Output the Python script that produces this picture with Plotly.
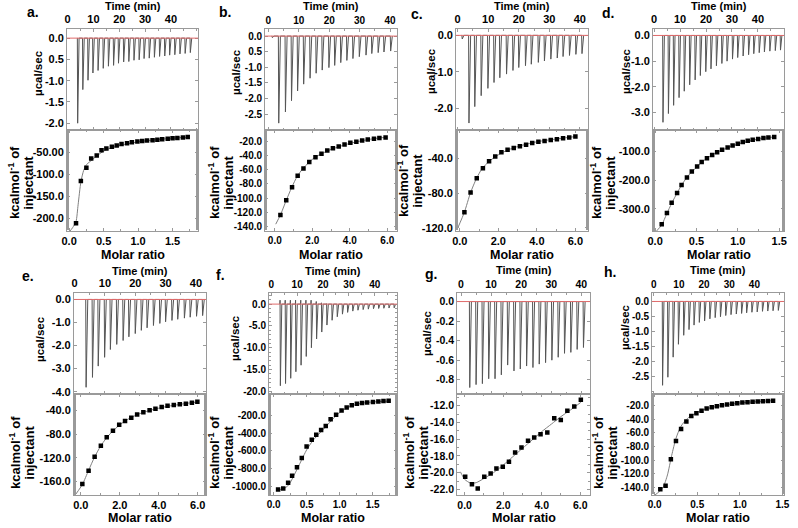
import plotly.graph_objects as go

W, H = 798, 528
FONT = "Liberation Sans"
FRAME = "#9a9a9a"

time_ticks = [0, 10, 20, 30, 40]
time_labels = ["0", "10", "20", "30", "40"]

# ===================== panel a =====================
a_inj_time = [3.7, 5.7, 7.7, 9.6, 11.6, 13.6, 15.6, 17.6, 19.5, 21.5, 23.5, 25.5,
              27.5, 29.4, 31.4, 33.4, 35.4, 37.4, 39.3, 41.3, 43.3, 45.3, 47.3]
a_inj_peak = [-2.00, -1.21, -0.99, -0.82, -0.76, -0.71, -0.66, -0.64, -0.59, -0.56, -0.55, -0.52,
              -0.51, -0.48, -0.47, -0.45, -0.43, -0.42, -0.40, -0.39, -0.37, -0.36, -0.34]
a_ratio = [0.10, 0.17, 0.25, 0.32, 0.40, 0.47, 0.54, 0.62, 0.69, 0.76, 0.84, 0.91,
           0.99, 1.06, 1.13, 1.21, 1.28, 1.35, 1.43, 1.50, 1.57, 1.65, 1.72]
a_heat = [-212, -116, -86, -65, -58, -46, -42, -38, -35, -32, -30, -28,
          -26, -25, -24, -23, -22, -21, -20, -19, -18, -17, -16]
a_fit_x = [0.0, 0.05, 0.10, 0.13, 0.17, 0.21, 0.25, 0.30, 0.40, 0.50, 0.60, 0.80, 1.00, 1.20, 1.40, 1.60, 1.72]
a_fit_y = [-232, -222, -208, -170, -118, -92, -79, -72, -59, -48, -41, -33, -27, -23, -20, -17.5, -16.5]
a_power_ticks = [0.0, -0.5, -1.0, -1.5, -2.0]
a_power_labels = ["0.0", "0.5", "-1.0", "-1.5", "-2.0"]
a_ratio_ticks = [0.0, 0.5, 1.0, 1.5]
a_ratio_labels = ["0.0", "0.5", "1.0", "1.5"]
a_heat_ticks = [-50, -100, -150, -200]
a_heat_labels = ["-50.00", "-100.0", "-150.0", "-200.0"]

# ===================== panel b =====================
b_inj_time = [1.1, 3.2, 5.4, 7.4, 9.4, 11.4, 13.5, 15.5, 17.5, 19.7, 21.6, 23.6,
              25.6, 27.6, 29.7, 31.9, 33.8, 35.9, 37.8, 40.0]
b_inj_peak = [-0.05, -2.79, -2.43, -2.07, -1.76, -1.54, -1.35, -1.19, -1.09, -1.01, -0.94, -0.85,
              -0.78, -0.72, -0.66, -0.61, -0.56, -0.53, -0.51, -0.48]
b_ratio = [0.30, 0.61, 0.92, 1.22, 1.53, 1.84, 2.17, 2.49, 2.80, 3.10, 3.41, 3.72,
           4.03, 4.35, 4.66, 4.96, 5.29, 5.58, 5.91]
b_heat = [-124, -103, -84.5, -68.5, -58, -49, -42, -37, -32.5, -29.5, -27, -24,
          -21.5, -20, -18.5, -17, -16, -15, -14]
b_fit_x = [0.05, 0.3, 0.6, 0.9, 1.2, 1.5, 1.8, 2.1, 2.5, 3.0, 3.5, 4.0, 4.5, 5.0, 5.5, 5.95]
b_fit_y = [-137, -124, -104, -85, -69, -58, -50, -43, -37, -31, -26.5, -22.5, -19.5, -17, -15, -13.8]
b_power_ticks = [0.0, -0.5, -1.0, -1.5, -2.0, -2.5]
b_power_labels = ["0.0", "0.5", "-1.0", "-1.5", "-2.0", "-2.5"]
b_ratio_ticks = [0.0, 2.0, 4.0, 6.0]
b_ratio_labels = ["0.0", "2.0", "4.0", "6.0"]
b_heat_ticks = [-20, -40, -60, -80, -100, -120, -140]
b_heat_labels = ["-20.0", "-40.0", "-60.0", "-80.0", "-100.0", "-120.0", "-140.0"]

# ===================== panel c =====================
c_inj_time = [1.3, 3.5, 5.4, 7.5, 9.7, 11.7, 13.6, 15.8, 17.9, 19.8, 22.0, 23.9,
              26.2, 28.2, 30.3, 32.4, 34.3, 36.4, 38.5, 40.5]
c_inj_peak = [-0.10, -2.40, -1.95, -1.65, -1.45, -1.29, -1.16, -1.06, -0.96, -0.88, -0.83, -0.79,
              -0.74, -0.70, -0.65, -0.62, -0.58, -0.55, -0.52, -0.50]
c_ratio = [0.24, 0.56, 0.88, 1.20, 1.52, 1.84, 2.16, 2.48, 2.80, 3.12, 3.44, 3.76,
           4.08, 4.40, 4.72, 5.04, 5.36, 5.68, 6.00]
c_heat = [-102, -79.5, -63, -51.5, -43.5, -38, -33, -30, -28, -26, -24.5, -22.5,
          -21, -20, -19, -18, -17, -16, -15]
c_fit_x = [-0.1, 0.24, 0.55, 0.85, 1.15, 1.5, 1.85, 2.2, 2.6, 3.0, 3.5, 4.0, 4.5, 5.0, 5.5, 6.0]
c_fit_y = [-120, -102, -80, -64, -52, -44, -38, -33.5, -29.5, -26.5, -23.5, -21, -19.2, -17.8, -16.3, -15]
c_power_ticks = [0.0, -1.0, -2.0]
c_power_labels = ["0.0", "-1.0", "-2.0"]
c_ratio_ticks = [0.0, 2.0, 4.0, 6.0]
c_ratio_labels = ["0.0", "2.0", "4.0", "6.0"]
c_heat_ticks = [-40, -80, -120]
c_heat_labels = ["-40.0", "-80.0", "-120.0"]

# ===================== panel d =====================
d_inj_time = [3.2, 5.3, 7.3, 9.4, 11.4, 13.5, 15.6, 17.6, 19.7, 21.7, 23.8, 25.9,
              27.9, 30.0, 32.0, 34.1, 36.2, 38.2, 40.3, 42.3, 44.4, 46.5, 48.5]
d_inj_peak = [-3.38, -3.04, -2.72, -2.42, -2.17, -1.92, -1.73, -1.56, -1.41, -1.30, -1.18, -1.09,
              -1.00, -0.92, -0.86, -0.80, -0.75, -0.71, -0.67, -0.64, -0.61, -0.59, -0.57]
d_ratio = [0.08, 0.143, 0.20, 0.266, 0.32, 0.385, 0.444, 0.508, 0.563, 0.627, 0.69, 0.75,
           0.81, 0.877, 0.937, 1.0, 1.06, 1.12, 1.18, 1.246, 1.31, 1.37, 1.44]
d_heat = [-354, -315, -279, -245, -217, -191, -170, -153, -137, -124, -113, -103,
          -95, -87, -80, -74, -68, -63, -60, -57, -54, -52, -50]
d_fit_x = [0.015, 0.08, 0.14, 0.2, 0.27, 0.33, 0.4, 0.5, 0.6, 0.7, 0.8, 0.9, 1.0, 1.1, 1.2, 1.3, 1.44]
d_fit_y = [-378, -356, -318, -281, -243, -213, -185, -155, -130, -111, -97, -85, -75, -67, -60, -55, -50]
d_power_ticks = [0.0, -1.0, -2.0, -3.0]
d_power_labels = ["0.0", "-1.0", "-2.0", "-3.0"]
d_ratio_ticks = [0.0, 0.5, 1.0, 1.5]
d_ratio_labels = ["0.0", "0.5", "1.0", "1.5"]
d_heat_ticks = [-100, -200, -300]
d_heat_labels = ["-100.0", "-200.0", "-300.0"]

# ===================== panel e =====================
e_inj_time = [3.6, 5.7, 7.6, 9.7, 11.6, 13.7, 15.8, 17.7, 19.8, 21.8, 23.7, 25.8,
              27.9, 29.8, 31.9, 33.8, 36.0, 37.9, 40.0, 42.0]
e_inj_peak = [-3.81, -3.38, -2.89, -2.51, -2.17, -1.95, -1.78, -1.62, -1.48, -1.34, -1.23, -1.13,
              -1.04, -0.97, -0.91, -0.86, -0.81, -0.77, -0.73, -0.70]
e_ratio = [0.08, 0.40, 0.71, 1.03, 1.33, 1.65, 1.97, 2.27, 2.59, 2.89, 3.21, 3.53,
           3.83, 4.15, 4.45, 4.77, 5.08, 5.39, 5.70, 5.98]
e_heat = [-164, -141.5, -118, -99.5, -85, -74, -64, -57.5, -52, -46.5, -43, -39.5,
          -37, -34, -32, -30.5, -29.5, -28.5, -27, -25]
e_fit_x = [-0.25, 0.08, 0.4, 0.7, 1.0, 1.3, 1.6, 2.0, 2.5, 3.0, 3.5, 4.0, 4.5, 5.0, 5.5, 6.0]
e_fit_y = [-181, -165, -141, -119, -101, -87, -76, -64, -53, -45.5, -40, -36, -32.5, -30, -27.5, -25.5]
e_power_ticks = [0.0, -1.0, -2.0, -3.0, -4.0]
e_power_labels = ["0.0", "-1.0", "-2.0", "-3.0", "-4.0"]
e_ratio_ticks = [0.0, 2.0, 4.0, 6.0]
e_ratio_labels = ["0.0", "2.0", "4.0", "6.0"]
e_heat_ticks = [-40, -80, -120, -160]
e_heat_labels = ["-40.0", "-80.0", "-120.0", "-160.0"]

# ===================== panel f =====================
f_inj_time = [3.3, 5.3, 7.3, 9.3, 11.3, 13.3, 15.3, 17.3, 19.3, 21.3, 23.3, 25.3,
              27.3, 29.3, 31.3, 33.3, 35.3, 37.3, 39.3, 41.3, 43.3, 45.3, 47.3]
f_inj_peak = [-18.7, -18.2, -17.0, -15.5, -14.0, -12.0, -10.0, -8.0, -6.4, -4.8, -3.7, -2.9,
              -2.3, -1.9, -1.6, -1.4, -1.25, -1.15, -1.05, -1.0, -0.95, -0.9, -0.85]
f_inj_rise = [0.9, 0.9, 0.9, 0.9, 0.9, 0.9, 0.9, 0.6, 0.3, 0.1, 0.0, 0.0,
              0.0, 0.0, 0.0, 0.0, 0.0, 0.0, 0.0, 0.0, 0.0, 0.0, 0.0]
f_ratio = [0.068, 0.146, 0.22, 0.28, 0.354, 0.427, 0.50, 0.578, 0.646, 0.72, 0.79, 0.864,
           0.947, 1.03, 1.107, 1.184, 1.262, 1.34, 1.417, 1.505, 1.587, 1.665, 1.743]
f_heat = [-1035, -1025, -960, -880, -785, -680, -550, -475, -420, -365, -320, -245,
          -195, -147, -113, -87, -70, -61, -57, -50, -44, -40, -37]
f_fit_x = [0.05, 0.12, 0.2, 0.25, 0.3, 0.4, 0.5, 0.6, 0.7, 0.8, 0.9, 1.0, 1.1, 1.2, 1.35, 1.5, 1.75]
f_fit_y = [-1045, -1035, -1005, -960, -890, -740, -590, -480, -400, -320, -240, -170, -120, -88, -62, -50, -40]
f_power_ticks = [0.0, -5.0, -10.0, -15.0, -20.0]
f_power_labels = ["0.0", "-5.0", "-10.0", "-15.0", "-20.0"]
f_ratio_ticks = [0.0, 0.5, 1.0, 1.5]
f_ratio_labels = ["0.0", "0.5", "1.0", "1.5"]
f_heat_ticks = [-200, -400, -600, -800, -1000]
f_heat_labels = ["-200.0", "-400.0", "-600.0", "-800.0", "-1000.0"]

# ===================== panel g =====================
g_inj_time = [2.7, 4.8, 6.9, 9.0, 11.1, 13.2, 15.3, 17.4, 19.5, 21.6, 23.7, 25.8,
              27.9, 30.0, 32.1, 34.2, 36.3, 38.4, 40.5]
g_inj_peak = [-0.88, -0.85, -0.84, -0.79, -0.79, -0.75, -0.65, -0.71, -0.69, -0.66, -0.675, -0.64,
              -0.625, -0.60, -0.57, -0.53, -0.52, -0.49, -0.47]
g_ratio = [0.03, 0.38, 0.68, 1.02, 1.35, 1.65, 1.98, 2.30, 2.62, 2.95, 3.29, 3.61,
           3.94, 4.29, 4.65, 4.99, 5.33, 5.69, 6.03]
g_heat = [-20.5, -21.4, -21.9, -20.5, -20.1, -19.5, -19.3, -18.7, -17.6, -17.0, -16.2, -15.8,
          -15.4, -15.2, -13.5, -13.7, -12.6, -12.1, -11.3]
g_fit_x = [-0.22, 0.0, 0.3, 0.6, 1.0, 1.5, 2.0, 2.5, 3.0, 3.5, 4.0, 4.5, 5.0, 5.5, 6.03]
g_fit_y = [-19.9, -20.8, -21.25, -21.2, -20.7, -20.0, -19.1, -18.1, -17.1, -16.1, -15.1, -14.2, -13.3, -12.5, -11.6]
g_power_ticks = [0.0, -0.2, -0.4, -0.6, -0.8]
g_power_labels = ["0.0", "-0.2", "-0.4", "-0.6", "-0.8"]
g_ratio_ticks = [0.0, 2.0, 4.0, 6.0]
g_ratio_labels = ["0.0", "2.0", "4.0", "6.0"]
g_heat_ticks = [-12, -14, -16, -18, -20, -22]
g_heat_labels = ["-12.0", "-14.0", "-16.0", "-18.0", "-20.0", "-22.0"]

# ===================== panel h =====================
h_inj_time = [3.3, 5.4, 7.5, 9.6, 11.7, 13.8, 15.8, 17.9, 20.0, 22.1, 24.2, 26.3,
              28.4, 30.5, 32.6, 34.7, 36.7, 38.8, 40.9, 43.0, 45.1, 47.2, 49.3]
h_inj_peak = [-2.80, -2.53, -1.86, -1.43, -1.13, -0.94, -0.79, -0.70, -0.65, -0.58, -0.54, -0.51,
              -0.47, -0.44, -0.42, -0.40, -0.38, -0.36, -0.35, -0.33, -0.32, -0.31, -0.30]
h_ratio = [0.066, 0.128, 0.19, 0.25, 0.31, 0.372, 0.43, 0.49, 0.55, 0.61, 0.67, 0.73,
           0.79, 0.85, 0.91, 0.97, 1.03, 1.09, 1.15, 1.21, 1.27, 1.33, 1.39]
h_heat = [-143, -138, -99, -72, -54, -43, -35, -31, -27, -24, -22, -20.5,
          -19, -18, -17, -16, -15, -14.5, -14, -13.5, -13, -12.6, -12.4]
h_fit_x = [0.0, 0.05, 0.1, 0.15, 0.2, 0.25, 0.3, 0.35, 0.4, 0.5, 0.6, 0.8, 1.0, 1.2, 1.39]
h_fit_y = [-152, -147, -140, -122, -93, -68, -52, -43, -37, -29.5, -24.5, -19, -15.8, -13.6, -12.3]
h_power_ticks = [0.0, -0.5, -1.0, -1.5, -2.0, -2.5]
h_power_labels = ["0.0", "-0.5", "-1.0", "-1.5", "-2.0", "-2.5"]
h_ratio_ticks = [0.0, 0.5, 1.0, 1.5]
h_ratio_labels = ["0.0", "0.5", "1.0", "1.5"]
h_heat_ticks = [-20, -40, -60, -80, -100, -120, -140]
h_heat_labels = ["-20.0", "-40.0", "-60.0", "-80.0", "-100.0", "-120.0", "-140.0"]

# ----------------------------------------------------------------------------
ROWS = [(29, 131, 233), (295, 397, 499)]   # frame top, divider, bottom (px)

panels = [
    dict(label="a.", cols=(62, 195), row=0, t=a_inj_time, p=a_inj_peak, rise=None,
         r=a_ratio, q=a_heat, fx=a_fit_x, fy=a_fit_y,
         trange=[-0.2, 50.5], prange=[-2.16, 0.22], rrange=[-0.03, 1.87], hrange=[-230, 0],
         pt=a_power_ticks, pl=a_power_labels, rt=a_ratio_ticks, rl=a_ratio_labels,
         ht=a_heat_ticks, hl=a_heat_labels, fs=11,
         lab=(27, 12), ttl_y=6.5, ucal=(33, 74), kcal=(15, 184), mol_y=257),
    dict(label="b.", cols=(263, 397), row=0, t=b_inj_time, p=b_inj_peak, rise=None,
         r=b_ratio, q=b_heat, fx=b_fit_x, fy=b_fit_y,
         trange=[-1.1, 42.3], prange=[-3.01, 0.234], rrange=[-0.52, 6.52], hrange=[-147, -3.5],
         pt=b_power_ticks, pl=b_power_labels, rt=b_ratio_ticks, rl=b_ratio_labels,
         ht=b_heat_ticks, hl=b_heat_labels, fs=10,
         lab=(222, 12), ttl_y=6.5, ucal=(234, 72), kcal=(218, 184), mol_y=257),
    dict(label="c.", cols=(457, 591), row=0, t=c_inj_time, p=c_inj_peak, rise=None,
         r=c_ratio, q=c_heat, fx=c_fit_x, fy=c_fit_y,
         trange=[-0.5, 42.7], prange=[-2.59, 0.18], rrange=[-0.19, 6.66], hrange=[-124, -7.4],
         pt=c_power_ticks, pl=c_power_labels, rt=c_ratio_ticks, rl=c_ratio_labels,
         ht=c_heat_ticks, hl=c_heat_labels, fs=11,
         lab=(417, 14), ttl_y=6, ucal=(432, 72), kcal=(410, 182), mol_y=257),
    dict(label="d.", cols=(657, 790), row=0, t=d_inj_time, p=d_inj_peak, rise=None,
         r=d_ratio, q=d_heat, fx=d_fit_x, fy=d_fit_y,
         trange=[-0.4, 50.1], prange=[-3.68, 0.26], rrange=[-0.024, 1.56], hrange=[-378, -26],
         pt=d_power_ticks, pl=d_power_labels, rt=d_ratio_ticks, rl=d_ratio_labels,
         ht=d_heat_ticks, hl=d_heat_labels, fs=11,
         lab=(611, 13), ttl_y=6, ucal=(630, 72), kcal=(606, 184), mol_y=257),
    dict(label="e.", cols=(69, 203), row=1, t=e_inj_time, p=e_inj_peak, rise=None,
         r=e_ratio, q=e_heat, fx=e_fit_x, fy=e_fit_y,
         trange=[-0.2, 43.3], prange=[-4.1, 0.29], rrange=[-0.35, 6.42], hrange=[-183, -12],
         pt=e_power_ticks, pl=e_power_labels, rt=e_ratio_ticks, rl=e_ratio_labels,
         ht=e_heat_ticks, hl=e_heat_labels, fs=11,
         lab=(22, 278), ttl_y=273, ucal=(35, 341), kcal=(16, 456), mol_y=521.5),
    dict(label="f.", cols=(267, 397), row=1, t=f_inj_time, p=f_inj_peak, rise=f_inj_rise,
         r=f_ratio, q=f_heat, fx=f_fit_x, fy=f_fit_y,
         trange=[-0.9, 48.6], prange=[-20.6, 2.6], rrange=[-0.07, 1.87], hrange=[-1100, 40],
         pt=f_power_ticks, pl=f_power_labels, rt=f_ratio_ticks, rl=f_ratio_labels,
         ht=f_heat_ticks, hl=f_heat_labels, fs=10,
         lab=(218, 277), ttl_y=273, ucal=(233, 340), kcal=(218, 456), mol_y=521.5),
    dict(label="g.", cols=(458, 593), row=1, t=g_inj_time, p=g_inj_peak, rise=None,
         r=g_ratio, q=g_heat, fx=g_fit_x, fy=g_fit_y,
         trange=[-1.3, 42.9], prange=[-0.946, 0.09], rrange=[-0.39, 6.51], hrange=[-22.7, -10.6],
         pt=g_power_ticks, pl=g_power_labels, rt=g_ratio_ticks, rl=g_ratio_labels,
         ht=g_heat_ticks, hl=g_heat_labels, fs=10.5,
         lab=(431, 276), ttl_y=272.5, ucal=(428, 336), kcal=(416, 456), mol_y=521.5),
    dict(label="h.", cols=(656, 790), row=1, t=h_inj_time, p=h_inj_peak, rise=None,
         r=h_ratio, q=h_heat, fx=h_fit_x, fy=h_fit_y,
         trange=[-0.65, 51.8], prange=[-3.09, 0.29], rrange=[-0.03, 1.52], hrange=[-152, -2.4],
         pt=h_power_ticks, pl=h_power_labels, rt=h_ratio_ticks, rl=h_ratio_labels,
         ht=h_heat_ticks, hl=h_heat_labels, fs=10,
         lab=(613, 274), ttl_y=272.5, ucal=(628, 330), kcal=(608, 456), mol_y=521.5),
]


def fx_(px):
    return px / W


def fy_(px):
    return 1 - px / H


def thermogram(times, peaks, rises):
    xs, ys = [], []
    for i, (t, pk) in enumerate(zip(times, peaks)):
        r = rises[i] if rises else 0.0
        xs += [t, t + 0.08, t + 0.2, t + 0.75]
        ys += [0.0, r, pk, 0.0]
    return xs, ys


def axis_common(tickvals, ticktext, fs):
    half = (tickvals[1] - tickvals[0]) / 2.0
    return dict(
        showline=True, linecolor=FRAME, linewidth=1, mirror="allticks",
        ticks="inside", ticklen=3, tickcolor=FRAME, tickwidth=1,
        showgrid=False, zeroline=False,
        tickmode="array", tickvals=tickvals, ticktext=ticktext,
        tickfont=dict(family=FONT, size=fs, color="black", weight="bold"),
        minor=dict(ticks="inside", ticklen=2, tickcolor=FRAME, tickmode="linear",
                   tick0=tickvals[0], dtick=half, showgrid=False),
    )


def ref(letter, n):
    return letter if n == 1 else f"{letter}{n}"


fig = go.Figure()
layout = dict(width=W, height=H, margin=dict(l=0, r=0, t=0, b=0),
              paper_bgcolor="white", plot_bgcolor="white", showlegend=False)
annotations = []
shapes = []

bold = dict(family=FONT, color="black", weight="bold")

for k, P in enumerate(panels):
    nt, nb = 2 * k + 1, 2 * k + 2
    xt, yt = ref("x", nt), ref("y", nt)
    xb, yb = ref("x", nb), ref("y", nb)
    top, mid, bot = ROWS[P["row"]]
    x0, x1 = P["cols"]
    xdom = [fx_(x0), fx_(x1)]
    fs = P["fs"]

    tx, ty = thermogram(P["t"], P["p"], P["rise"])
    fig.add_trace(go.Scatter(x=tx, y=ty, mode="lines", xaxis=xt, yaxis=yt,
                             line=dict(color="#555555", width=1), hoverinfo="skip"))
    fig.add_trace(go.Scatter(x=P["fx"], y=P["fy"], mode="lines", xaxis=xb, yaxis=yb,
                             line=dict(color="#808080", width=1, shape="spline", smoothing=0.6),
                             hoverinfo="skip"))
    fig.add_trace(go.Scatter(x=P["r"], y=P["q"], mode="markers", xaxis=xb, yaxis=yb,
                             marker=dict(symbol="square", size=4.5, color="black")))

    ax = axis_common(time_ticks, time_labels, fs)
    ax.update(domain=xdom, range=P["trange"], side="top", anchor=yt)
    layout[ref("xaxis", nt)] = ax

    ay = axis_common(P["pt"], P["pl"], fs)
    ay.update(domain=[fy_(mid), fy_(top)], range=P["prange"], anchor=xt)
    layout[ref("yaxis", nt)] = ay

    bx = axis_common(P["rt"], P["rl"], fs)
    bx.update(domain=xdom, range=P["rrange"], side="bottom", anchor=yb)
    layout[ref("xaxis", nb)] = bx

    by = axis_common(P["ht"], P["hl"], fs)
    by.update(domain=[fy_(bot), fy_(mid)], range=P["hrange"], anchor=xb)
    layout[ref("yaxis", nb)] = by

    shapes.append(dict(type="line", xref=f"{xt} domain", yref=yt, x0=0, x1=1, y0=0, y1=0,
                       line=dict(color="#e06a6a", width=1)))

    cx = (x0 + x1) / 2
    annotations += [
        dict(text=P["label"], x=fx_(P["lab"][0]), y=fy_(P["lab"][1]), xref="paper", yref="paper",
             showarrow=False, xanchor="center", yanchor="middle", font=dict(size=14, **bold)),
        dict(text="Time (min)", x=fx_(cx), y=fy_(P["ttl_y"]), xref="paper", yref="paper",
             showarrow=False, xanchor="center", yanchor="middle", font=dict(size=11, **bold)),
        dict(text="Molar ratio", x=fx_(cx), y=fy_(P["mol_y"]), xref="paper", yref="paper",
             showarrow=False, xanchor="center", yanchor="middle", font=dict(size=12.5, **bold)),
        dict(text="µcal/sec", x=fx_(P["ucal"][0]), y=fy_(P["ucal"][1]), xref="paper", yref="paper",
             showarrow=False, xanchor="center", yanchor="middle", textangle=-90,
             font=dict(size=11.5, **bold)),
        dict(text="kcalmol<sup>-1</sup> of", x=fx_(P["kcal"][0] - 7.5), y=fy_(P["kcal"][1]),
             xref="paper", yref="paper", showarrow=False, xanchor="center", yanchor="middle",
             textangle=-90, font=dict(size=13, **bold)),
        dict(text="injectant", x=fx_(P["kcal"][0] + 7.5), y=fy_(P["kcal"][1]),
             xref="paper", yref="paper", showarrow=False, xanchor="center", yanchor="middle",
             textangle=-90, font=dict(size=13, **bold)),
    ]

layout["annotations"] = annotations
layout["shapes"] = shapes
fig.update_layout(**layout)
fig.write_html("out.html",
               config={"displayModeBar": False, "staticPlot": True},
               post_script="document.body.style.margin='0';document.body.style.overflow='hidden';")
